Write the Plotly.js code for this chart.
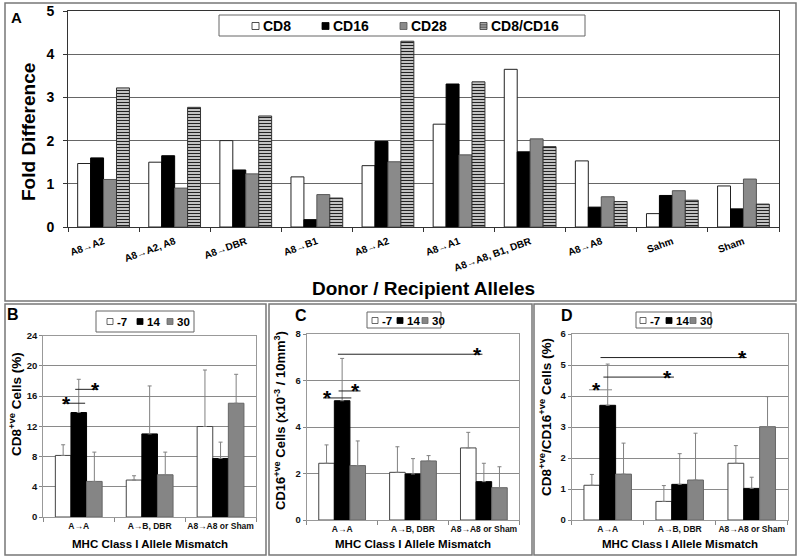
<!DOCTYPE html>
<html>
<head>
<meta charset="utf-8">
<script src="https://cdn.plot.ly/plotly-3.0.1.min.js"></script>
<style>
html,body{margin:0;padding:0;background:#fff;}
#chart{width:800px;height:560px;}
</style>
</head>
<body>
<div id="chart"></div>
<script>
// ---------- Panel A data ----------
const alleleLabels = ['A8→A2','A8→A2, A8','A8→DBR','A8→B1','A8→A2','A8→A1','A8→A8, B1, DBR','A8→A8','Sahm','Sham'];
const markerNames = ['CD8','CD16','CD28','CD8/CD16'];
const foldCD8     = [1.47,1.50,2.00,1.16,1.42,2.38,3.65,1.53,0.31,0.95];
const foldCD16    = [1.60,1.65,1.32,0.17,1.98,3.31,1.74,0.46,0.73,0.42];
const foldCD28    = [1.10,0.90,1.23,0.75,1.51,1.67,2.04,0.70,0.84,1.11];
const foldCD8CD16 = [3.22,2.77,2.57,0.67,4.30,3.36,1.86,0.59,0.62,0.53];

// ---------- Panels B-D data ----------
const mismatchLabels = ['A→A','A→B, DBR','A8→A8 or Sham'];
const dayNames = ['-7','14','30'];

const cd8Pct_m7 = [8.15,4.89,11.98];
const cd8Pct_m7_sd = [1.41,0.57,7.48];
const cd8Pct_14 = [13.83,11.00,7.75];
const cd8Pct_14_sd = [4.40,6.35,2.16];
const cd8Pct_30 = [4.71,5.59,15.06];
const cd8Pct_30_sd = [3.88,3.00,3.83];

const cd16Cells_m7 = [2.44,2.05,3.10];
const cd16Cells_m7_sd = [0.79,1.10,0.67];
const cd16Cells_14 = [5.13,1.98,1.65];
const cd16Cells_14_sd = [1.82,0.66,0.79];
const cd16Cells_30 = [2.34,2.54,1.39];
const cd16Cells_30_sd = [1.06,0.23,0.90];

const ratio_m7 = [1.12,0.60,1.83];
const ratio_m7_sd = [0.35,0.51,0.57];
const ratio_14 = [3.70,1.15,1.02];
const ratio_14_sd = [1.33,0.99,0.36];
const ratio_30 = [1.48,1.29,3.01];
const ratio_30_sd = [1.00,1.51,0.97];

// significance brackets: [from, to, level, star position]
const sigB = [[-0.23,0.09,15.06,-0.17],[-0.05,0.26,16.9,0.24]];
const sigC = [[-0.27,0.13,5.25,-0.20],[-0.05,0.26,5.55,0.19],[-0.06,1.98,7.13,1.91]];
const sigD = [[-0.26,0.06,4.20,-0.16],[-0.06,0.92,4.61,0.83],[-0.10,1.93,5.24,1.875]];

// ---------- helpers ----------
const W = 800, H = 560;
const px = x => x / W;
const py = y => 1 - y / H;
const FONT = 'Liberation Sans, Arial, Helvetica, sans-serif';
const bold = (size, color) => ({family: FONT, size: size, color: color || '#000', weight: 'bold'});

const traces = [];
const shapes = [];
const annotations = [];

// ---------- Panel A traces ----------
const aStyles = [
  {fill: '#ffffff', line: '#222'},
  {fill: '#000000', line: '#000'},
  {fill: '#8a8a8a', line: '#555'},
  {fill: '#cfcfcf', line: '#333', pattern: {shape: '-', fgcolor: '#222', bgcolor: '#d4d4d4', size: 3, solidity: 0.4}}
];
const aSeries = [foldCD8, foldCD16, foldCD28, foldCD8CD16];
const idxA = alleleLabels.map((_, i) => i);
const wA = 0.182;
aSeries.forEach((vals, k) => {
  const m = {color: aStyles[k].fill, line: {color: aStyles[k].line, width: 1}};
  if (aStyles[k].pattern) m.pattern = aStyles[k].pattern;
  traces.push({
    type: 'bar', name: markerNames[k], x: idxA, y: vals,
    xaxis: 'x', yaxis: 'y', width: wA, offset: -2 * wA + k * wA,
    marker: m, showlegend: false,
    customdata: alleleLabels, hovertemplate: '%{customdata}<br>' + markerNames[k] + ': %{y}<extra></extra>'
  });
});

// ---------- Panels B-D traces ----------
const dayStyles = [
  {fill: '#ffffff', line: '#444'},
  {fill: '#000000', line: '#000'},
  {fill: '#858585', line: '#666'}
];
const idxM = mismatchLabels.map((_, i) => i);
const wB = 0.22;
function addPanel(xa, ya, means, sds) {
  means.forEach((vals, k) => {
    traces.push({
      type: 'bar', name: dayNames[k], x: idxM, y: vals,
      xaxis: xa, yaxis: ya, width: wB, offset: -1.5 * wB + k * wB,
      marker: {color: dayStyles[k].fill, line: {color: dayStyles[k].line, width: 1}},
      error_y: {type: 'data', symmetric: false, array: sds[k], arrayminus: sds[k].map(() => 0),
                color: '#808080', thickness: 1, width: 2},
      showlegend: false, customdata: mismatchLabels,
      hovertemplate: '%{customdata}<br>day ' + dayNames[k] + ': %{y}<extra></extra>'
    });
  });
}
addPanel('x2', 'y2', [cd8Pct_m7, cd8Pct_14, cd8Pct_30], [cd8Pct_m7_sd, cd8Pct_14_sd, cd8Pct_30_sd]);
addPanel('x3', 'y3', [cd16Cells_m7, cd16Cells_14, cd16Cells_30], [cd16Cells_m7_sd, cd16Cells_14_sd, cd16Cells_30_sd]);
addPanel('x4', 'y4', [ratio_m7, ratio_14, ratio_30], [ratio_m7_sd, ratio_14_sd, ratio_30_sd]);

// ---------- significance brackets ----------
function addSig(list, xa, ya, colors) {
  list.forEach((s, i) => {
    shapes.push({type: 'line', xref: xa, yref: ya, x0: s[0], x1: s[1], y0: s[2], y1: s[2],
                 line: {color: (colors && colors[i]) || '#222', width: 1}, layer: 'above'});
    annotations.push({xref: xa, yref: ya, x: s[3], y: s[2], text: '*', showarrow: false,
                      xanchor: 'center', yanchor: 'middle', font: bold(21)});
  });
}
addSig(sigB, 'x2', 'y2');
addSig(sigC, 'x3', 'y3');
addSig(sigD, 'x4', 'y4', ['#888', '#222', '#222']);

// ---------- panel frames ----------
function frame(x0, y0, x1, y1) {
  shapes.push({type: 'rect', xref: 'paper', yref: 'paper', x0: px(x0), x1: px(x1), y0: py(y1), y1: py(y0),
               line: {color: '#777', width: 1.5}, fillcolor: 'rgba(0,0,0,0)', layer: 'below'});
}
frame(5, 3, 796, 301);
frame(5, 304, 266, 555);
frame(269, 304, 532, 555);
frame(534, 304, 796, 555);

// ---------- custom legends ----------
function legendBox(x0, y0, x1, y1) {
  shapes.push({type: 'rect', xref: 'paper', yref: 'paper', x0: px(x0), x1: px(x1), y0: py(y1), y1: py(y0),
               line: {color: '#666', width: 1}, fillcolor: '#ffffff', layer: 'above'});
}
function legendItem(sx, cy, size, style, label, fs) {
  shapes.push({type: 'rect', xref: 'paper', yref: 'paper', x0: px(sx), x1: px(sx + size),
               y0: py(cy + size / 2), y1: py(cy - size / 2),
               line: {color: style.line, width: 0.8}, fillcolor: style.fill, layer: 'above'});
  if (style.pattern) {
    [-1.8, 0, 1.8].forEach(d => {
      shapes.push({type: 'line', xref: 'paper', yref: 'paper', x0: px(sx), x1: px(sx + size),
                   y0: py(cy + d), y1: py(cy + d), line: {color: '#222', width: 0.8}, layer: 'above'});
    });
  }
  annotations.push({xref: 'paper', yref: 'paper', x: px(sx + size + 2), y: py(cy), text: label,
                    showarrow: false, xanchor: 'left', yanchor: 'middle', font: bold(fs)});
}
legendBox(219, 15, 585, 36);
[252, 322, 400, 480].forEach((sx, k) => legendItem(sx, 26, 7, aStyles[k], markerNames[k], 14));
legendBox(96, 311, 194, 332);
[107, 137, 167].forEach((sx, k) => legendItem(sx, 321.5, 6, dayStyles[k], dayNames[k], 11.5));
legendBox(367, 312, 441, 328);
[372, 397, 422].forEach((sx, k) => legendItem(sx, 320.5, 6, dayStyles[k], dayNames[k], 11.5));
legendBox(636, 312, 711, 328);
[640, 666, 690].forEach((sx, k) => legendItem(sx, 320.5, 6, dayStyles[k], dayNames[k], 11.5));

// ---------- titles and panel letters ----------
function txt(x, y, text, font, angle) {
  annotations.push({xref: 'paper', yref: 'paper', x: px(x), y: py(y), text: text, showarrow: false,
                    xanchor: 'center', yanchor: 'middle', font: font, textangle: angle || 0});
}
txt(16, 17, 'A', bold(15));
txt(13, 314, 'B', bold(16));
txt(301, 315, 'C', bold(16));
txt(567, 315, 'D', bold(16));
txt(423, 288, 'Donor / Recipient Alleles', bold(19));
txt(28, 132, 'Fold Difference', bold(19), -90);
txt(150, 544, 'MHC Class I Allele Mismatch', bold(11.5));
txt(413, 544, 'MHC Class I Allele Mismatch', bold(11.5));
txt(680, 544, 'MHC Class I Allele Mismatch', bold(11.5));
txt(15, 404, 'CD8<sup>+ve</sup> Cells (%)', bold(13.5), -90);
txt(280, 421, 'CD16<sup>+ve</sup> Cells (x10<sup>-3</sup> / 10mm<sup>3</sup>)', bold(13), -90);
txt(545, 417, 'CD8<sup>+ve</sup>/CD16<sup>+ve</sup> Cells (%)', bold(13.5), -90);

// ---------- axes ----------
const yCommon = {showgrid: true, gridwidth: 1, zeroline: false, showline: true, mirror: true,
                 ticks: 'outside', ticklen: 3, fixedrange: true};
function smallX(domain, anchor) {
  return {domain: domain, anchor: anchor, range: [-0.5, 2.5],
          tickmode: 'array', tickvals: idxM, ticktext: mismatchLabels, ticks: '', tickangle: 0,
          ticklabelstandoff: 1,
          minor: {tick0: -0.5, dtick: 1, ticks: 'outside', ticklen: 4, tickcolor: '#888', showgrid: false},
          tickfont: bold(8.5, '#111'), showgrid: false, zeroline: false, showline: true,
          linecolor: '#999', mirror: true, fixedrange: true};
}
const layout = {
  width: W, height: H, margin: {l: 0, r: 0, t: 0, b: 0},
  paper_bgcolor: '#ffffff', plot_bgcolor: '#ffffff',
  font: {family: FONT, color: '#000'},
  showlegend: false, barmode: 'group', hovermode: 'closest',
  xaxis: {
    domain: [px(68), px(779)], anchor: 'y', range: [-0.5, 9.5],
    tickmode: 'array', tickvals: idxA, ticktext: alleleLabels, ticks: '',
    tickangle: -20, tickfont: bold(10), ticklabelstandoff: 4,
    minor: {tick0: -0.5, dtick: 1, ticks: 'outside', ticklen: 4, tickcolor: '#333', showgrid: false},
    showgrid: false, zeroline: false, showline: true, linecolor: '#333', mirror: true, fixedrange: true
  },
  yaxis: Object.assign({}, yCommon, {
    domain: [py(227), py(11)], anchor: 'x', range: [0, 5], dtick: 1,
    gridcolor: '#666', linecolor: '#333', tickcolor: '#333', ticklen: 4,
    tickfont: bold(14), ticklabelstandoff: 6
  }),
  xaxis2: smallX([px(43.3), px(256)], 'y2'),
  yaxis2: Object.assign({}, yCommon, {domain: [py(517), py(335.7)], anchor: 'x2', range: [0, 24], dtick: 4,
           gridcolor: '#8a8a8a', linecolor: '#999', tickcolor: '#888', tickfont: bold(9.5, '#111')}),
  xaxis3: smallX([px(306.7), px(519.3)], 'y3'),
  yaxis3: Object.assign({}, yCommon, {domain: [py(520), py(334)], anchor: 'x3', range: [0, 8], dtick: 2,
           gridcolor: '#8a8a8a', linecolor: '#999', tickcolor: '#888', tickfont: bold(9.5, '#111')}),
  xaxis4: smallX([px(571.7), px(787.7)], 'y4'),
  yaxis4: Object.assign({}, yCommon, {domain: [py(520), py(334)], anchor: 'x4', range: [0, 6], dtick: 1,
           gridcolor: '#8a8a8a', linecolor: '#999', tickcolor: '#888', tickfont: bold(9.5, '#111')}),
  shapes: shapes,
  annotations: annotations
};

Plotly.newPlot('chart', traces, layout, {displayModeBar: false, responsive: false});
</script>
</body>
</html>
